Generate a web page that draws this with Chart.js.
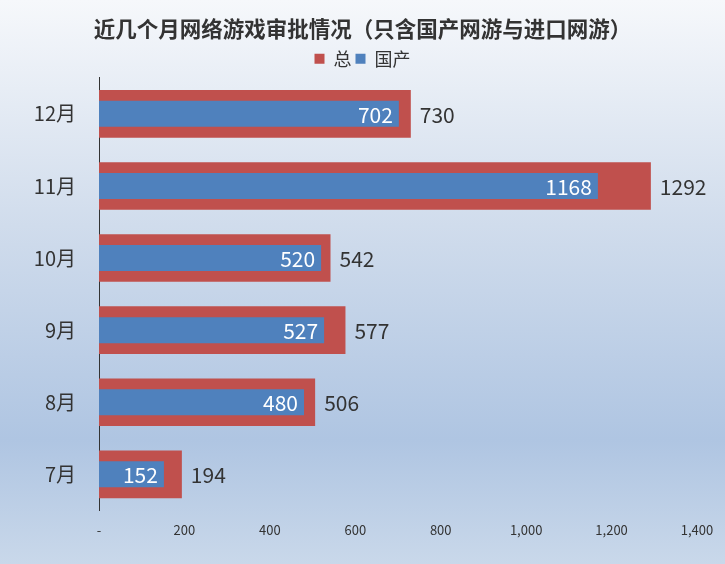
<!DOCTYPE html>
<html>
<head>
<meta charset="utf-8">
<script src="https://cdn.jsdelivr.net/npm/chart.js@4/dist/chart.umd.min.js"></script>
<style>
	html, body { margin: 0; padding: 0; }
	#wrap { width: 725px; height: 564px; }
</style>
</head>
<body>
<div id="wrap"><canvas id="myChart"></canvas></div>
<script>
const months = ['12月', '11月', '10月', '9月', '8月', '7月'];
const totalGames = [730, 1292, 542, 577, 506, 194];
const domesticGames = [702, 1168, 520, 527, 480, 152];
const xTicks = [0, 200, 400, 600, 800, 1000, 1200, 1400];

const FONT = '"Noto Sans CJK SC", "Noto Sans", sans-serif';

// gradient background behind everything
const backgroundPlugin = {
	id: 'bg',
	beforeDraw(chart) {
		const c = chart.ctx;
		const g = c.createLinearGradient(0, 0, 0, chart.height);
		g.addColorStop(0, '#f6f8fb');
		g.addColorStop(0.4, '#d0dcec');
		g.addColorStop(0.78, '#afc5e2');
		g.addColorStop(1, '#c9d8ea');
		c.save();
		c.fillStyle = g;
		c.fillRect(0, 0, chart.width, chart.height);
		c.restore();
	}
};

// value labels: blue inside end (white), red outside end (dark)
const valueLabels = {
	id: 'valueLabels',
	afterDatasetsDraw(chart) {
		const c = chart.ctx;
		c.save();
		c.font = '21px ' + FONT;
		c.textBaseline = 'middle';
		chart.data.datasets.forEach((ds, i) => {
			const meta = chart.getDatasetMeta(i);
			meta.data.forEach((bar, j) => {
				const v = ds.data[j];
				if (ds.label === '国产') {
					c.fillStyle = '#ffffff';
					c.textAlign = 'right';
					c.fillText(v, bar.x - 6, bar.y + 1);
				} else {
					c.fillStyle = '#333333';
					c.textAlign = 'left';
					c.fillText(v, bar.x + 9, bar.y + 1);
				}
			});
		});
		c.restore();
	}
};

const ctx = document.getElementById('myChart').getContext('2d');
const myChart = new Chart(ctx, {
	type: 'bar',
	data: {
		labels: months,
		datasets: [
			{
				label: '总',
				data: totalGames,
				backgroundColor: '#c0504d',
				grouped: false,
				order: 2,
				categoryPercentage: 1,
				barPercentage: 0.66
			},
			{
				label: '国产',
				data: domesticGames,
				backgroundColor: '#4f81bd',
				grouped: false,
				order: 1,
				categoryPercentage: 1,
				barPercentage: 0.36
			}
		]
	},
	plugins: [backgroundPlugin, valueLabels],
	options: {
		indexAxis: 'y',
		responsive: true,
		maintainAspectRatio: false,
		animation: false,
		layout: {
			padding: { top: 8, right: 0, bottom: 14, left: 0 }
		},
		plugins: {
			title: {
				display: true,
				text: '近几个月网络游戏审批情况（只含国产网游与进口网游）',
				color: '#333333',
				font: { family: FONT, size: 21.5, weight: 'bold' },
				padding: { top: 8, bottom: 4 }
			},
			legend: {
				display: true,
				labels: {
					color: '#333333',
					font: { family: FONT, size: 18 },
					boxWidth: 10,
					boxHeight: 10,
					padding: 4,
					sort: (a, b) => a.datasetIndex - b.datasetIndex
				}
			},
			tooltip: { enabled: false }
		},
		scales: {
			x: {
				min: 0,
				max: 1400,
				afterBuildTicks: (scale) => {
					scale.ticks = xTicks.map(v => ({ value: v }));
				},
				afterFit: (scale) => {
					scale.paddingRight = 28;
				},
				grid: { display: false, drawTicks: false },
				border: { display: false },
				ticks: {
					color: '#333333',
					font: { family: FONT, size: 13 },
					padding: 12,
					maxRotation: 0,
					callback: (v) => v === 0 ? '-' : v.toLocaleString('en-US')
				}
			},
			y: {
				grid: { display: false, drawTicks: false },
				border: { display: true, color: '#333333', width: 1 },
				ticks: {
					color: '#333333',
					font: { family: FONT, size: 20 },
					padding: 23
				},
				afterFit: (scale) => {
					scale.width = 99;
				}
			}
		}
	}
});
</script>
</body>
</html>
